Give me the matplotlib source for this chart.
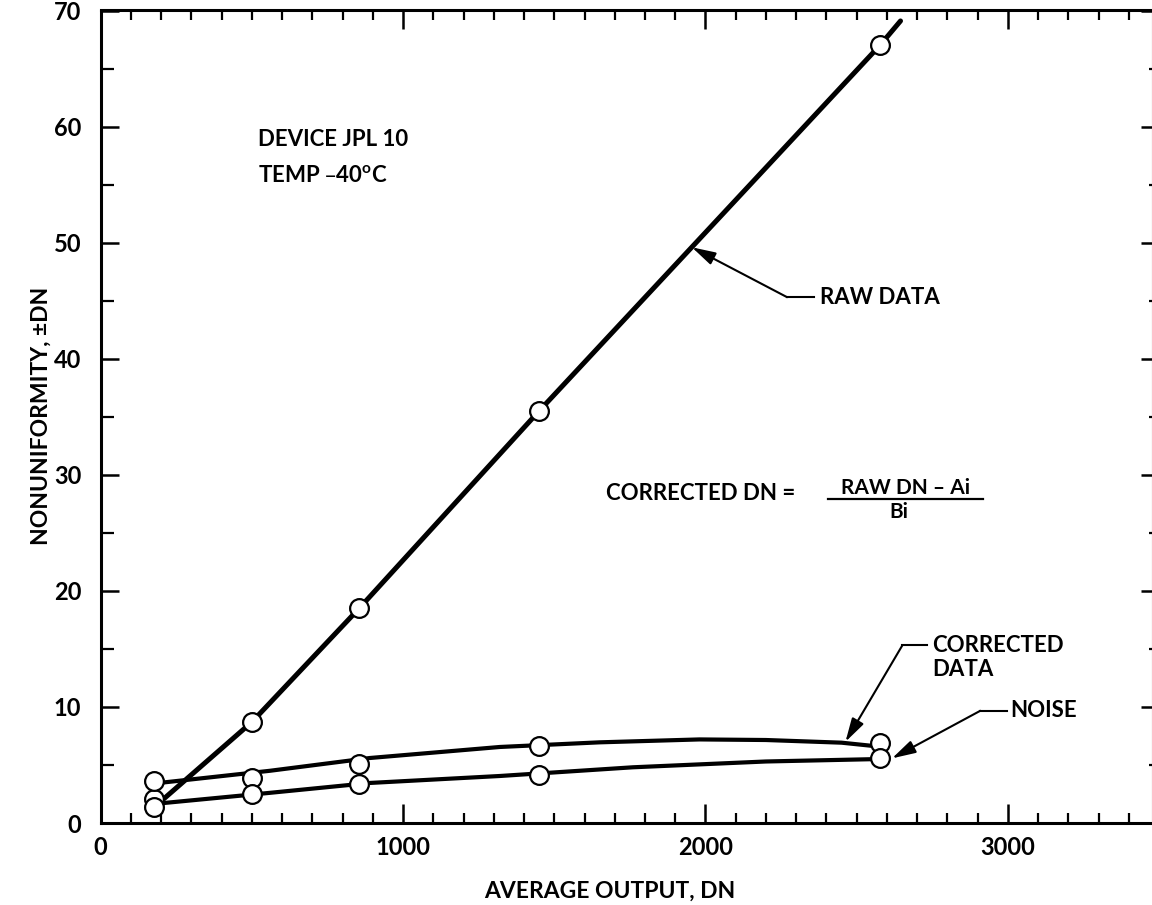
import matplotlib
matplotlib.use("Agg")
import matplotlib.pyplot as plt
from matplotlib.ticker import MultipleLocator

# Measured points (average output DN vs nonuniformity +/-DN)
output_dn = [175, 500, 855, 1450, 2577]
raw_points = [2.1, 8.7, 18.5, 35.5, 67.0]
corrected_points = [3.6, 3.85, 5.1, 6.6, 6.9]
noise_points = [1.35, 2.5, 3.35, 4.15, 5.6]

# Hand-faired curves drawn through the measurements
raw_curve_x = [205, 500, 855, 1450, 2577, 2645]
raw_curve_y = [2.0, 8.7, 18.5, 35.5, 67.0, 69.1]
corrected_curve_x = [200, 560, 890, 1320, 1650, 1980, 2200, 2450, 2550]
corrected_curve_y = [3.47, 4.5, 5.6, 6.55, 6.95, 7.2, 7.15, 6.92, 6.65]
noise_curve_x = [200, 560, 890, 1320, 1760, 2200, 2555]
noise_curve_y = [1.7, 2.6, 3.45, 4.05, 4.8, 5.3, 5.5]

x_major = [0, 1000, 2000, 3000]
x_labels = ["0", "1000", "2000", "3000"]
y_major = [0, 10, 20, 30, 40, 50, 60, 70]
y_labels = ["0", "10", "20", "30", "40", "50", "60", "70"]

FONT = ["Lato", "DejaVu Sans"]
plt.rcParams["font.family"] = FONT
plt.rcParams["font.weight"] = "bold"

W, H = 1152, 905
fig = plt.figure(figsize=(W / 100, H / 100), dpi=100)
x0_px, x1_px, y0_px, y1_px = 100.7, 1153.0, 823.0, 10.5
ax = fig.add_axes([x0_px / W, 1 - y0_px / H, (x1_px - x0_px) / W, (y0_px - y1_px) / H])
ax.set_xlim(0, 3480)
ax.set_ylim(0, 70)

for s in ax.spines.values():
    s.set_linewidth(2.2)

ax.set_xticks(x_major)
ax.set_xticklabels(x_labels)
ax.set_yticks(y_major)
ax.set_yticklabels(y_labels)
ax.xaxis.set_minor_locator(MultipleLocator(100))
ax.yaxis.set_minor_locator(MultipleLocator(5))
ax.tick_params(axis="x", which="major", direction="in", length=14, width=1.8,
               top=True, bottom=True, labelsize=17, pad=9)
ax.tick_params(axis="x", which="minor", direction="in", length=7, width=1.6,
               top=True, bottom=True)
ax.tick_params(axis="y", which="major", direction="in", length=13, width=1.8,
               left=True, right=False, labelsize=17, pad=14)
ax.tick_params(axis="y", which="minor", direction="in", length=9, width=1.6,
               left=True, right=False)

# Shorter ticks along the right edge
axr = ax.twinx()
axr.set_ylim(0, 70)
axr.set_yticks(y_major)
axr.yaxis.set_minor_locator(MultipleLocator(5))
axr.tick_params(axis="y", which="major", direction="in", length=9, width=1.8, labelright=False)
axr.tick_params(axis="y", which="minor", direction="in", length=3, width=1.6)
for s in axr.spines.values():
    s.set_visible(False)

# Curves
ax.plot(raw_curve_x, raw_curve_y, color="black", lw=3.6, solid_capstyle="round", zorder=3)
ax.plot(corrected_curve_x, corrected_curve_y, color="black", lw=3.0, solid_capstyle="round", zorder=3)
ax.plot(noise_curve_x, noise_curve_y, color="black", lw=3.0, solid_capstyle="round", zorder=3)

# Measured points
mk = dict(linestyle="none", marker="o", markersize=13.5, markerfacecolor="white",
          markeredgecolor="black", markeredgewidth=1.6, zorder=5)
ax.plot(output_dn, raw_points, **mk)
ax.plot(output_dn, corrected_points, **mk)
ax.plot(output_dn, noise_points, **mk)

# Text block
ax.text(520, 58.9, "DEVICE JPL 10", fontsize=16, va="center", ha="left")
ax.text(520, 55.8, "TEMP \u201340$^{\\mathregular{o}}$C", fontsize=16, va="center", ha="left")

arrow = dict(arrowstyle="-|>,head_length=0.9,head_width=0.25", mutation_scale=16,
             lw=1.5, color="black", shrinkA=0, shrinkB=0)

# RAW DATA callout
ax.plot([2270, 2360], [45.3, 45.3], color="black", lw=1.5)
ax.annotate("", xy=(1955, 49.6), xytext=(2270, 45.3), arrowprops=arrow)
ax.text(2380, 45.3, "RAW DATA", fontsize=16, va="center", ha="left")

# CORRECTED DATA callout
ax.plot([2651, 2734], [15.3, 15.3], color="black", lw=1.5)
ax.annotate("", xy=(2463, 7.0), xytext=(2651, 15.3), arrowprops=arrow)
ax.text(2750, 15.3, "CORRECTED", fontsize=16, va="center", ha="left")
ax.text(2750, 13.2, "DATA", fontsize=16, va="center", ha="left")

# NOISE callout
ax.plot([2909, 2998], [9.67, 9.67], color="black", lw=1.5)
ax.annotate("", xy=(2617, 5.57), xytext=(2909, 9.67), arrowprops=arrow)
ax.text(3008, 9.67, "NOISE", fontsize=16, va="center", ha="left")

# Correction formula
ax.text(2297, 28.4, "CORRECTED DN =", fontsize=16, va="center", ha="right")
ax.text(2661, 28.9, "RAW DN \u2013 Ai", fontsize=15, va="center", ha="center")
ax.plot([2405, 2919], [27.9, 27.9], color="black", lw=1.6)
ax.text(2641, 26.8, "Bi", fontsize=15, va="center", ha="center")

# Axis titles
fig.text(610 / W, 1 - 891 / H, "AVERAGE OUTPUT, DN", fontsize=16.5, ha="center", va="center")
fig.text(41 / W, 1 - 416 / H, "NONUNIFORMITY, \u00b1DN", fontsize=16.5, ha="center",
         va="center", rotation=90)

fig.savefig("out.png", dpi=100)
